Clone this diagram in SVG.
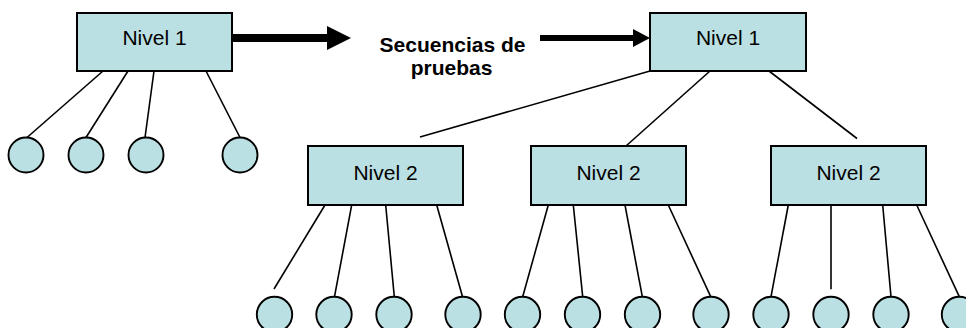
<svg xmlns="http://www.w3.org/2000/svg" width="966" height="328" viewBox="0 0 966 328">
<style>
.box{fill:#BBE0E3;stroke:#000;stroke-width:2}
.leaf{fill:#BBE0E3;stroke:#000;stroke-width:1.9}
.lbl{font-family:"Liberation Sans",Arial,sans-serif;font-size:21px;fill:#000;text-anchor:middle}
.cap{font-family:"Liberation Sans",Arial,sans-serif;font-size:21px;font-weight:bold;fill:#000;text-anchor:middle}
.ln{stroke:#000;stroke-width:1.6;fill:none}
</style>
<rect width="966" height="328" fill="#fff"/>
<g id="connectors">
  <line class="ln" x1="103" y1="71" x2="27" y2="137.5"/>
  <line class="ln" x1="128" y1="71" x2="86" y2="137.5"/>
  <line class="ln" x1="154" y1="71" x2="145" y2="137.5"/>
  <line class="ln" x1="206" y1="71" x2="240" y2="137.5"/>
  <rect x="232" y="34" width="96" height="8" fill="#000"/>
  <polygon points="327,26 351,38 327,50" fill="#000"/>
  <rect x="540" y="35" width="94" height="6" fill="#000"/>
  <polygon points="633,29 650,38 633,47" fill="#000"/>
  <line class="ln" x1="650" y1="71" x2="420" y2="137"/>
  <line class="ln" x1="710" y1="71" x2="626" y2="146"/>
  <line class="ln" x1="769" y1="71" x2="857" y2="138.5"/>
  <line class="ln" x1="325" y1="205" x2="274" y2="289"/>
  <line class="ln" x1="351.7" y1="205" x2="334.5" y2="296.7"/>
  <line class="ln" x1="385.7" y1="205" x2="394.3" y2="296.7"/>
  <line class="ln" x1="436.7" y1="205" x2="462.5" y2="296.7"/>
  <line class="ln" x1="548.3" y1="205" x2="522.7" y2="296.7"/>
  <line class="ln" x1="573.3" y1="205" x2="582.7" y2="296.7"/>
  <line class="ln" x1="625" y1="205" x2="642.3" y2="296.7"/>
  <line class="ln" x1="668.3" y1="205" x2="710.7" y2="296.7"/>
  <line class="ln" x1="788.3" y1="205" x2="771" y2="296.7"/>
  <line class="ln" x1="831" y1="205" x2="831" y2="289.3"/>
  <line class="ln" x1="882.7" y1="205" x2="891" y2="296.7"/>
  <line class="ln" x1="916.7" y1="205" x2="959.3" y2="296.7"/>
</g>
<g id="n1-left">
  <rect class="box" x="77" y="13" width="155" height="58"/>
  <text class="lbl" x="154.5" y="45">Nivel 1</text>
</g>
<g id="label-secuencias">
  <text class="cap" x="452.5" y="52">Secuencias de</text>
  <text class="cap" x="451.5" y="75">pruebas</text>
</g>
<g id="n1-right">
  <rect class="box" x="650" y="13" width="156" height="58"/>
  <text class="lbl" x="728" y="45">Nivel 1</text>
</g>
<g id="n2-a">
  <rect class="box" x="308" y="146" width="155" height="59"/>
  <text class="lbl" x="385.5" y="179.5">Nivel 2</text>
</g>
<g id="n2-b">
  <rect class="box" x="531" y="146" width="155" height="59"/>
  <text class="lbl" x="608.5" y="179.5">Nivel 2</text>
</g>
<g id="n2-c">
  <rect class="box" x="771" y="146" width="155" height="59"/>
  <text class="lbl" x="848.5" y="179.5">Nivel 2</text>
</g>
<g id="leaves-left">
  <circle class="leaf" cx="26" cy="155" r="17.5"/>
  <circle class="leaf" cx="86" cy="155" r="17.5"/>
  <circle class="leaf" cx="146" cy="155" r="17.5"/>
  <circle class="leaf" cx="240" cy="155" r="17.5"/>
</g>
<g id="leaves-bottom">
  <circle class="leaf" cx="274.5" cy="314.5" r="17.7"/>
  <circle class="leaf" cx="334" cy="314.5" r="17.7"/>
  <circle class="leaf" cx="394" cy="314.5" r="17.7"/>
  <circle class="leaf" cx="463" cy="314.5" r="17.7"/>
  <circle class="leaf" cx="522.5" cy="314.5" r="17.7"/>
  <circle class="leaf" cx="582.5" cy="314.5" r="17.7"/>
  <circle class="leaf" cx="642.5" cy="314.5" r="17.7"/>
  <circle class="leaf" cx="711" cy="314.5" r="17.7"/>
  <circle class="leaf" cx="771" cy="314.5" r="17.7"/>
  <circle class="leaf" cx="831" cy="314.5" r="17.7"/>
  <circle class="leaf" cx="891" cy="314.5" r="17.7"/>
  <circle class="leaf" cx="959.5" cy="314.5" r="17.7"/>
</g>
</svg>
